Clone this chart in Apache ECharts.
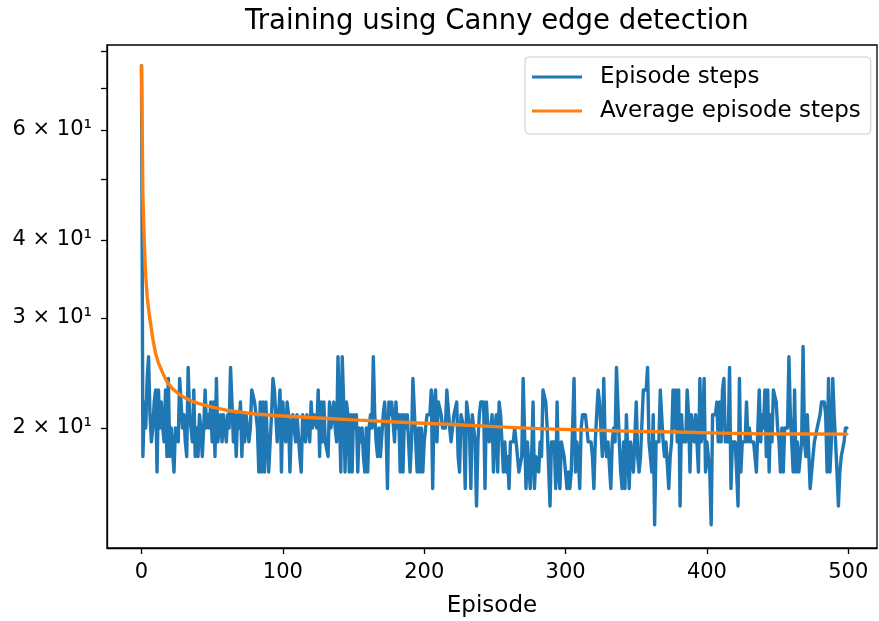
<!DOCTYPE html>
<html>
<head>
<meta charset="utf-8">
<script src="https://cdn.jsdelivr.net/npm/echarts@6.0.0/dist/echarts.min.js"></script>
<style>
  html, body { margin: 0; padding: 0; background: #fff; }
  #chart { width: 879px; height: 621px; }
</style>
</head>
<body>
<div id="chart"></div>
<script>
// episode steps (episode 0 .. 499)
let episodeSteps = [
  76,18,22,20,24,26,21,19,20,22, 23,17,23,20,22,20,19,23,18,24,
  18,20,20,17,20,20,19,24,22,20, 21,19,18,25,21,20,19,23,18,20,
  18,21,20,18,20,23,20,21,20,22, 19,22,18,24,19,20,21,19,21,
  21,19,21,20,25,22,19,21,18,21, 20,22,18,21,19,21,20,19,20,23,
  23,22,21,20,17,22,17,22,17,22, 19,17,19,21,24,23,21,19,21,23,
  17,22,20,19,22,21,17,20,21,20, 19,21,21,18,17,21,20,19,21,20,
  19,22,20,21,
  21,20,23,18,22,19,22,19,19,18, 22,20,21,22,20,19,26,26,17,26,
  22,17,22,21,17,21,17,21,20,21, 17,20,19,20,18,17,20,17,20,21,
  20,26,21,19,18,20,18,18,21,22, 20,16,22,21,22,22,19,22,20,21,
  17,21,17,21,
  20,21,21,17,19,24,24,19,17,20, 17,20,17,19,20,21,21,21,23,16,
  22,23,19,22,22,21,20,20,20,23, 23,20,19,19,21,21,22,18,17,21,
  21,20,16,22,21,20,16,21,20,19, 15,19,21,22,22,22,16,22,20,19,
  19,21,17,20,
  21,17,22,21,19,17,19,17,18,16, 19,19,19,20,19,18,17,17,18,24,
  24,16,19,19,16,18,22,16,18,18, 17,19,18,23,23,22,20,20,15,19,
  19,19,16,22,17,16,19,19,18,18, 16,17,16,17,17,24,17,19,18,16,
  20,21,21,
  21,20,19,19,19,18,16,19,21,23, 22,22,18,24,19,18,19,19,16,19,
  20,19,25,25,19,17,16,19,16,21, 21,16,19,18,17,17,22,18,17,18,
  18,23,23,23,25,19,19,17,21,14, 19,19,19,23,23,19,18,19,19,16,
  18,19,23,20,
  23,19,23,15,21,19,19,19,23,21, 17,21,21,19,21,21,17,24,19,20,
  24,17,19,19,17,14,21,21,21,22, 19,22,19,23,24,19,19,19,25,16,
  19,19,19,17,15,24,17,19,19,19, 22,19,20,19,19,19,19,17,20,23,
  19,21,20,23,
  18,23,17,21,19,23,23,22,20,19, 17,20,17,20,20,20,26,21,19,17,
  23,17,19,17,17,19,27,19,18,21, 21,16,16,18,19,19,20,20,21,22,
  22,22,21,17,24,17,19,24,21,19, 17,15,17,18,18,19,20,20
];

// running average
let avgEpisodes = [0,1,2,3,4,5,6,8,10,12,15,18,22,26,30,35,40,50,60,80,100,125,150,187,220,250,280,314,350,378,410,441,470,499];
let avgSteps = [76,47,39.5,35,32.5,31,29.8,27.8,26.3,25.4,24.5,23.7,23.1,22.7,22.4,22.1,21.9,21.6,21.35,21.05,20.9,20.75,20.6,20.4,20.25,20.1,19.95,19.85,19.75,19.7,19.62,19.57,19.56,19.55];

let seriesNames = ['Episode steps', 'Average episode steps'];
let xTicks = [0, 100, 200, 300, 400, 500];
let yLabelTicks = [20, 30, 40, 60];
let yTicks = [20, 30, 40, 50, 60, 70, 80];
let color = ['#1f77b4', '#ff7f0e'];
let font = 'DejaVu Sans';

let chart = echarts.init(document.getElementById('chart'), null, { renderer: 'canvas' });

let blueData = episodeSteps.map((v, i) => [i, v]);
let orangeData = avgEpisodes.map((e, i) => [e, avgSteps[i]]);

let option = {
  backgroundColor: '#fff',
  animation: false,
  title: {
    text: 'Training using Canny edge detection',
    left: 240,
    top: 3,
    textStyle: { fontFamily: font, fontSize: 27.5, fontWeight: 'normal', color: '#000' }
  },
  legend: {
    data: seriesNames,
    orient: 'vertical',
    left: 525,
    top: 57,
    padding: [8, 10, 11, 7],
    itemGap: 10,
    itemWidth: 50,
    itemHeight: 3,
    icon: 'rect',
    backgroundColor: 'rgba(255,255,255,0.8)',
    borderColor: '#cccccc',
    borderWidth: 1,
    borderRadius: 4,
    textStyle: { fontFamily: font, fontSize: 23, color: '#000', lineHeight: 24, padding: [0, 0, 0, 13] }
  },
  grid: {
    left: 107, right: 2, top: 45, bottom: 73,
    show: true, borderColor: '#000', borderWidth: 1.3,
    outerBoundsMode: 'none'
  },
  xAxis: {
    type: 'value',
    min: -24.4,
    max: 520.3,
    name: 'Episode',
    nameLocation: 'middle',
    nameGap: 47,
    nameTextStyle: { fontFamily: font, fontSize: 23, color: '#000' },
    splitLine: { show: false },
    axisLine: { show: true, onZero: false, lineStyle: { color: '#000', width: 1.3 } },
    axisTick: { show: true, inside: false, length: 6, customValues: xTicks, lineStyle: { color: '#000', width: 1.3 } },
    axisLabel: { customValues: xTicks, margin: 14, fontFamily: font, fontSize: 21, color: '#000' }
  },
  yAxis: {
    type: 'log',
    logBase: 10,
    min: 12.85,
    max: 82,
    splitLine: { show: false },
    minorTick: { show: false },
    axisLine: { show: true, onZero: false, lineStyle: { color: '#000', width: 1.3 } },
    axisTick: { show: true, inside: false, length: 6, customValues: yTicks, lineStyle: { color: '#000', width: 1.3 } },
    axisLabel: {
      customValues: yLabelTicks,
      margin: 15,
      fontFamily: font,
      fontSize: 21,
      color: '#000',
      formatter: function (v) { return Math.round(v / 10) + ' × 10¹'; }
    }
  },
  series: [
    {
      name: seriesNames[0],
      type: 'line',
      data: blueData,
      showSymbol: false,
      symbol: 'none',
      itemStyle: { color: color[0] },
      lineStyle: { color: color[0], width: 3.4, join: 'round', cap: 'round' },
      z: 2
    },
    {
      name: seriesNames[1],
      type: 'line',
      data: orangeData,
      showSymbol: false,
      symbol: 'none',
      itemStyle: { color: color[1] },
      lineStyle: { color: color[1], width: 3.4, join: 'round', cap: 'round' },
      z: 3
    }
  ]
};

chart.setOption(option);
window.addEventListener('resize', function () { chart.resize(); });
</script>
</body>
</html>
